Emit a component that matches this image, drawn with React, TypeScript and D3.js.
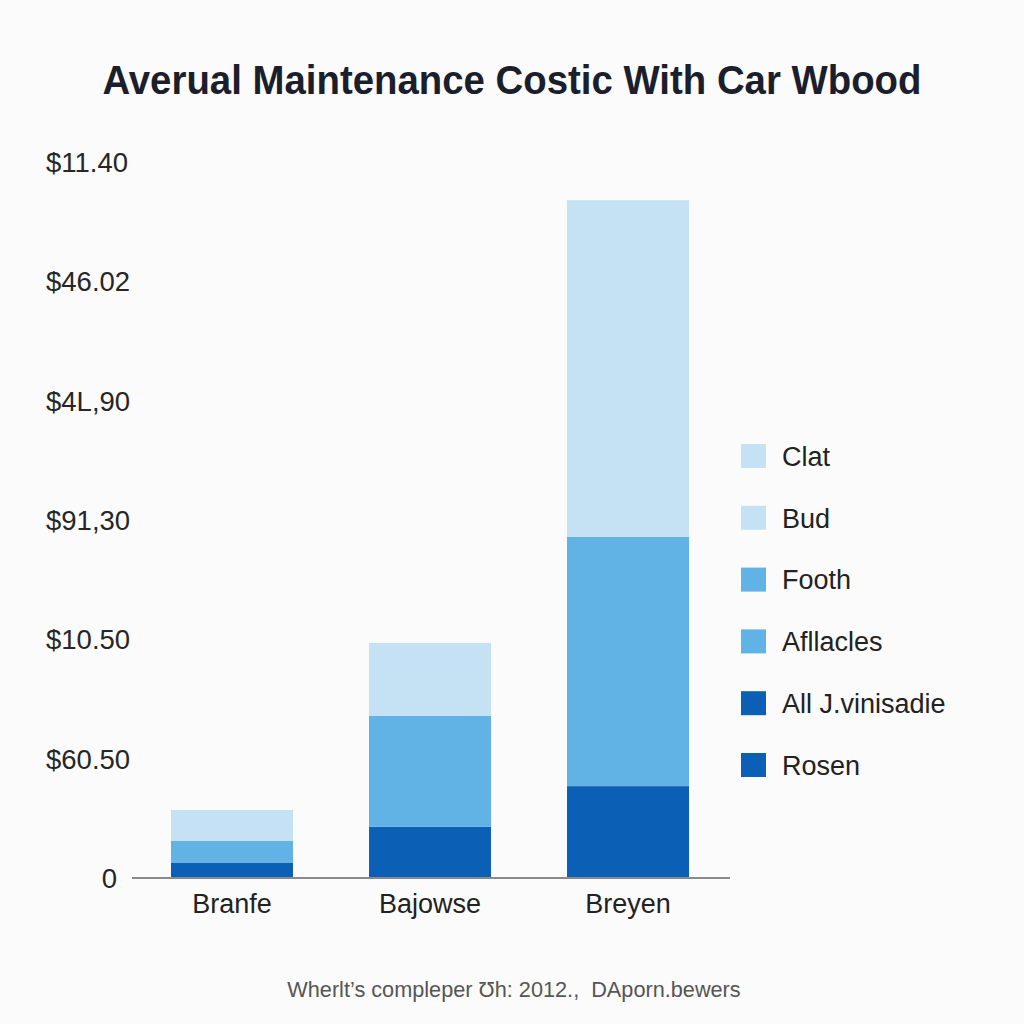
import React from "react";
import * as d3 from "d3";

const categories = ["Branfe", "Bajowse", "Breyen"];
const seriesNames = ["Dark", "Mid", "Light"];
const darkValues = [1.3, 4.3, 7.7];
const midValues = [1.8, 9.3, 20.9];
const lightValues = [2.6, 6.1, 28.2];
const tickValues = [0, 10, 20, 30, 40, 50, 60];
const tickLabels = ["0", "$60.50", "$10.50", "$91,30", "$4L,90", "$46.02", "$11.40"];
const legendLabels = ["Clat", "Bud", "Footh", "Afllacles", "All J.vinisadie", "Rosen"];
const legendSeries = ["Light", "Light", "Mid", "Mid", "Dark", "Dark"];
const title = "Averual Maintenance Costic With Car Wbood";
const footnote = "Wherlt\u2019s compleper Ʊh: 2012.,\u00a0 DAporn.bewers";

const colors: Record<string, string> = {
  Dark: "#0b60b5",
  Mid: "#60b3e4",
  Light: "#c5e1f4",
};

const FONT = "'Liberation Sans', Arial, sans-serif";

export default function App() {
  const W = 1024, H = 1024;
  const x0 = 132, x1 = 730;
  const yBase = 878, yTop = 162;

  const x = d3.scaleBand().domain(categories).range([171, 689]).paddingInner(0.384).paddingOuter(0);
  const y = d3.scaleLinear().domain([0, 60]).range([yBase, yTop]);

  const rows = categories.map((c, i) => ({ cat: c, Dark: darkValues[i], Mid: midValues[i], Light: lightValues[i] }));
  const stack = d3.stack<any>().keys(seriesNames)(rows);

  const legendY = d3.scalePoint().domain(legendLabels).range([456, 765]);

  return (
    <svg width={W} height={H} style={{ position: "fixed", top: 0, left: 0, display: "block", background: "#fbfbfc" }}>
      <rect x={0} y={0} width={W} height={H} fill="#fbfbfc" />
      <text x={512} y={94} textAnchor="middle" fontFamily={FONT} fontWeight={700} fontSize={40} fill="#1b1e2b"
        textLength={819} lengthAdjust="spacingAndGlyphs">{title}</text>

      {tickValues.map((v, i) => (
        <text key={v} x={i === 0 ? 117 : 46} y={y(v)} dy="0.36em" textAnchor={i === 0 ? "end" : "start"} fontFamily={FONT}
          fontSize={27.5} fill="#262626">{tickLabels[i]}</text>
      ))}

      {stack.map((s) => (
        <g key={s.key} fill={colors[s.key]}>
          {s.map((d, i) => (
            <rect key={i} x={x(categories[i])} width={x.bandwidth()} y={y(d[1])} height={y(d[0]) - y(d[1])} />
          ))}
        </g>
      ))}

      <line x1={x0} x2={x1} y1={yBase} y2={yBase} stroke="#8a8a8a" strokeWidth={2} />

      {categories.map((c) => (
        <text key={c} x={(x(c) as number) + x.bandwidth() / 2} y={913} textAnchor="middle" fontFamily={FONT}
          fontSize={27} fill="#222">{c}</text>
      ))}

      {legendLabels.map((l, i) => (
        <g key={l} transform={`translate(741, ${legendY(l)})`}>
          <rect x={0} y={-12} width={25} height={24} fill={colors[legendSeries[i]]} />
          <text x={41} y={0} dy="0.36em" fontFamily={FONT} fontSize={27} fill="#222">{l}</text>
        </g>
      ))}

      <text x={514} y={997} textAnchor="middle" fontFamily={FONT} fontSize={21.7} fill="#555">{footnote}</text>
    </svg>
  );
}
